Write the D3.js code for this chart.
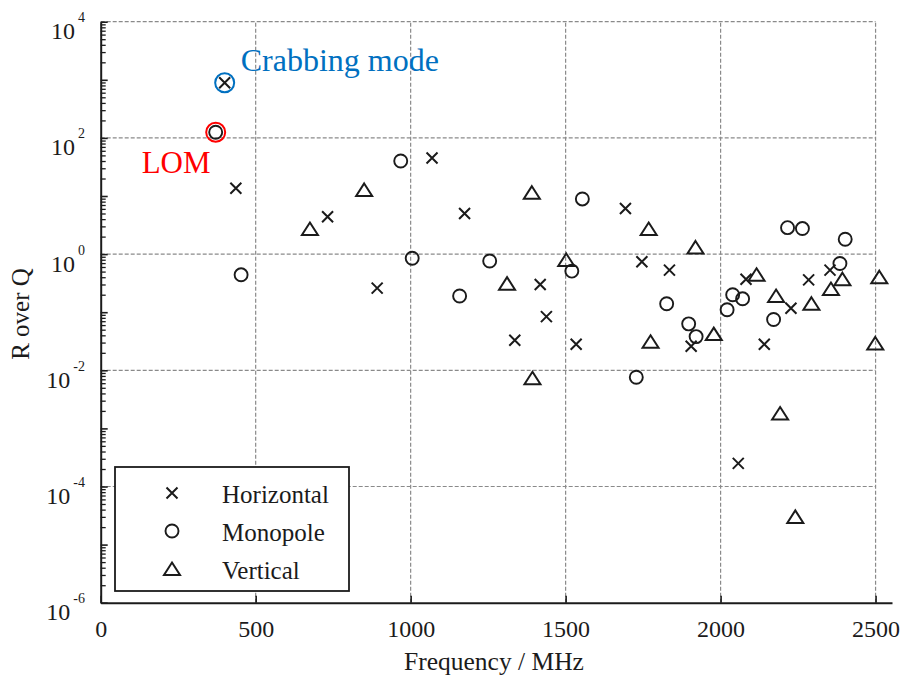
<!DOCTYPE html>
<html>
<head>
<meta charset="utf-8">
<script src="https://cdn.jsdelivr.net/npm/d3@7"></script>
<style>
  body { margin: 0; background: #fff; }
  text { font-family: "Liberation Serif", "Times New Roman", serif; }
</style>
</head>
<body>
<div class="chart"></div>
<script>
// R over Q of the cavity modes, [frequency MHz, R/Q]
const horizontal = [
  [400, 890], [436, 13.6], [732, 4.4], [892, 0.26], [1069, 45], [1174, 5.0],
  [1336, 0.033], [1418, 0.30], [1438, 0.084], [1534, 0.028], [1693, 6.1],
  [1746, 0.74], [1835, 0.53], [1905, 0.026], [2057, 0.00025], [2082, 0.37],
  [2141, 0.028], [2227, 0.117], [2284, 0.36], [2353, 0.53]
];
const monopole = [
  [371, 125], [453, 0.44], [968, 40], [1005, 0.85], [1158, 0.19], [1255, 0.76],
  [1520, 0.51], [1554, 8.9], [1728, 0.0076], [1826, 0.14], [1897, 0.063],
  [1921, 0.038], [2021, 0.11], [2039, 0.20], [2071, 0.17], [2171, 0.075],
  [2216, 2.85], [2264, 2.75], [2385, 0.69], [2402, 1.8]
];
const vertical = [
  [675, 2.7], [850, 12.7], [1311, 0.31], [1391, 11.4], [1393, 0.0073],
  [1502, 0.79], [1768, 2.7], [1774, 0.031], [1919, 1.3], [1978, 0.042],
  [2116, 0.44], [2179, 0.19], [2192, 0.0018], [2241, 3.0e-5],
  [2293, 0.14], [2356, 0.25], [2393, 0.37], [2499, 0.029], [2512, 0.40]
];
const xTicks = [0, 500, 1000, 1500, 2000, 2500];
const yExponents = [4, 2, 0, -2, -4, -6];
const legendNames = ["Horizontal", "Monopole", "Vertical"];

const width = 902, height = 677;
const ink = "#1b1b1b";

const xScale = d3.scaleLinear()
    .domain([0, 2553])
    .range([100.7, 892]);

const yScale = d3.scaleLog()
    .domain([1e-6, 1e4])
    .range([602.7, 21.7]);

var svg = d3.select(".chart")
    .append("svg")
    .attr("width", width)
    .attr("height", height);

// grid
var grid = svg.append("g")
    .attr("stroke", "#8a8a8a")
    .attr("stroke-width", 1.2)
    .attr("stroke-dasharray", "4,2");

grid.selectAll("line.h")
    .data(yExponents.slice(0, 5))
    .enter()
    .append("line")
    .attr("class", "h")
    .attr("x1", xScale(0))
    .attr("x2", xScale(2500))
    .attr("y1", d => yScale(Math.pow(10, d)))
    .attr("y2", d => yScale(Math.pow(10, d)));

grid.selectAll("line.v")
    .data(xTicks.slice(1))
    .enter()
    .append("line")
    .attr("class", "v")
    .attr("x1", d => xScale(d))
    .attr("x2", d => xScale(d))
    .attr("y1", yScale(1e-6))
    .attr("y2", yScale(1e4));

// y axis, ticks pointing into the plot
var minors = [];
for (let e = -6; e < 4; e++) {
  for (let m = 2; m <= 9; m++) minors.push(m * Math.pow(10, e));
}
var majors = d3.range(-6, 5).map(e => Math.pow(10, e));

const yMinorAxis = d3.axisLeft(yScale)
    .tickValues(minors)
    .tickSize(-5)
    .tickFormat("");
const yMajorAxis = d3.axisLeft(yScale)
    .tickValues(majors)
    .tickSize(-7)
    .tickSizeOuter(0)
    .tickFormat("");

svg.append("g")
    .attr("transform", `translate(${xScale(0)},0)`)
    .call(yMinorAxis)
    .call(g => g.select(".domain").remove())
    .call(g => g.selectAll("line").attr("stroke", ink).attr("stroke-width", 1.3));

svg.append("g")
    .attr("transform", `translate(${xScale(0)},0)`)
    .call(yMajorAxis)
    .call(g => g.select(".domain").attr("stroke", ink).attr("stroke-width", 2))
    .call(g => g.selectAll("line").attr("stroke", ink).attr("stroke-width", 1.6));

var yLabels = svg.append("g")
    .selectAll("text")
    .data(yExponents)
    .enter()
    .append("text")
    .attr("x", 85)
    .attr("y", d => yScale(Math.pow(10, d)) + 17.5)
    .attr("text-anchor", "end")
    .attr("fill", ink)
    .attr("font-size", 24);
yLabels.append("tspan").text("10");
yLabels.append("tspan")
    .attr("dx", 3)
    .attr("dy", -17)
    .attr("font-size", 14)
    .text(d => d);

// x axis, ticks pointing up
const xAxis = d3.axisBottom(xScale)
    .tickValues(xTicks)
    .tickSize(-7)
    .tickSizeOuter(0)
    .tickPadding(21)
    .tickFormat(d3.format("d"));

svg.append("g")
    .attr("transform", `translate(0,${yScale(1e-6)})`)
    .call(xAxis)
    .call(g => g.select(".domain").attr("stroke", ink).attr("stroke-width", 2))
    .call(g => g.selectAll("line").attr("stroke", ink).attr("stroke-width", 1.6))
    .call(g => g.selectAll("text")
        .attr("font-family", "Liberation Serif, serif")
        .attr("font-size", 24)
        .attr("fill", ink)
        .attr("dy", "0.55em"));

svg.append("text")
    .text("Frequency / MHz")
    .attr("x", 494)
    .attr("y", 670)
    .attr("text-anchor", "middle")
    .attr("fill", ink)
    .attr("font-size", 25.5);

svg.append("text")
    .text("R over Q")
    .attr("transform", "translate(29,314) rotate(-90)")
    .attr("text-anchor", "middle")
    .attr("fill", ink)
    .attr("font-size", 25);

// markers
const crossPath = "M-5.5,-5.5L5.5,5.5M-5.5,5.5L5.5,-5.5";
const triPath = "M0,-6.5L8,6L-8,6Z";

function drawCross(g, data) {
  g.selectAll("path.h")
      .data(data)
      .enter()
      .append("path")
      .attr("class", "h")
      .attr("d", crossPath)
      .attr("transform", d => `translate(${xScale(d[0])},${yScale(d[1])})`)
      .attr("fill", "none")
      .attr("stroke", ink)
      .attr("stroke-width", 2);
}
function drawCircle(g, data) {
  g.selectAll("circle.m")
      .data(data)
      .enter()
      .append("circle")
      .attr("class", "m")
      .attr("cx", d => xScale(d[0]))
      .attr("cy", d => yScale(d[1]))
      .attr("r", 6.5)
      .attr("fill", "none")
      .attr("stroke", ink)
      .attr("stroke-width", 1.9);
}
function drawTriangle(g, data) {
  g.selectAll("path.v")
      .data(data)
      .enter()
      .append("path")
      .attr("class", "v")
      .attr("d", triPath)
      .attr("transform", d => `translate(${xScale(d[0])},${yScale(d[1])})`)
      .attr("fill", "none")
      .attr("stroke", ink)
      .attr("stroke-width", 2)
      .attr("stroke-linejoin", "miter");
}

var marks = svg.append("g");
drawTriangle(marks, vertical);
drawCircle(marks, monopole);
drawCross(marks, horizontal);

// legend
var legend = svg.append("g")
    .attr("transform", "translate(115,467)");

legend.append("rect")
    .attr("width", 234)
    .attr("height", 124)
    .attr("fill", "#fff")
    .attr("stroke", ink)
    .attr("stroke-width", 1.8);

legend.append("path")
    .attr("d", crossPath)
    .attr("transform", "translate(57,26)")
    .attr("fill", "none")
    .attr("stroke", ink)
    .attr("stroke-width", 2);
legend.append("circle")
    .attr("cx", 57)
    .attr("cy", 64)
    .attr("r", 6.5)
    .attr("fill", "none")
    .attr("stroke", ink)
    .attr("stroke-width", 1.9);
legend.append("path")
    .attr("d", triPath)
    .attr("transform", "translate(57,102)")
    .attr("fill", "none")
    .attr("stroke", ink)
    .attr("stroke-width", 2);

legend.selectAll("text")
    .data(legendNames)
    .enter()
    .append("text")
    .text(d => d)
    .attr("x", 107)
    .attr("y", (d, i) => 35.5 + 38 * i)
    .attr("fill", ink)
    .attr("font-size", 25);

// highlighted modes
const crab = horizontal[0];
const lom = monopole[0];

svg.append("circle")
    .attr("cx", xScale(crab[0]))
    .attr("cy", yScale(crab[1]))
    .attr("r", 9.5)
    .attr("fill", "none")
    .attr("stroke", "#0070c0")
    .attr("stroke-width", 2);

svg.append("text")
    .text("Crabbing mode")
    .attr("x", xScale(crab[0]) + 16)
    .attr("y", 71)
    .attr("fill", "#0070c0")
    .attr("font-size", 32);

svg.append("circle")
    .attr("cx", xScale(lom[0]))
    .attr("cy", yScale(lom[1]))
    .attr("r", 9.5)
    .attr("fill", "none")
    .attr("stroke", "#ff0000")
    .attr("stroke-width", 2);

svg.append("text")
    .text("LOM")
    .attr("x", xScale(lom[0]) - 74)
    .attr("y", 172.5)
    .attr("fill", "#ff0000")
    .attr("font-size", 31);
</script>
</body>
</html>
